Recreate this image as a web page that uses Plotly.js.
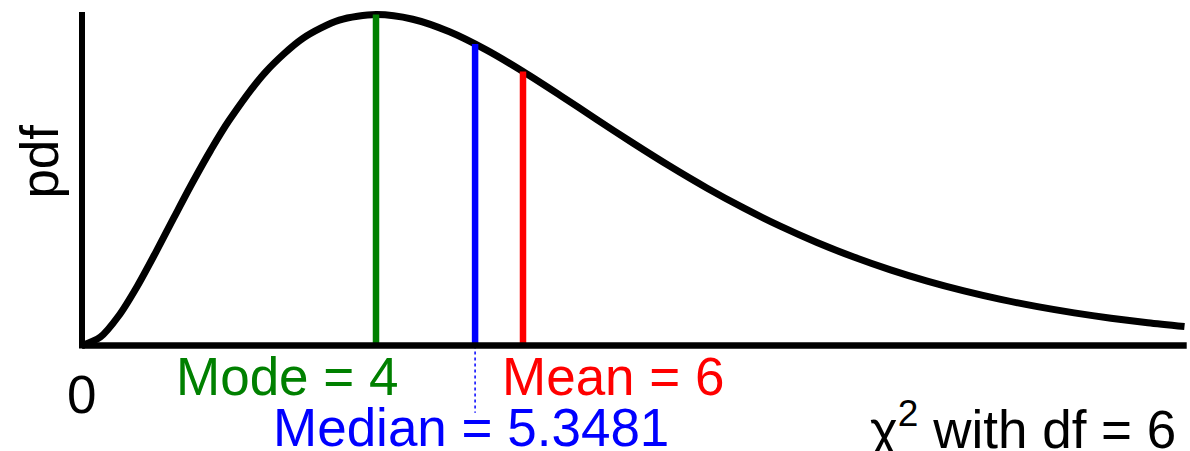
<!DOCTYPE html>
<html>
<head>
<meta charset="utf-8">
<script src="https://cdn.plot.ly/plotly-3.0.1.min.js"></script>
<style>html,body{margin:0;padding:0;background:#fff;}#chart{width:1190px;height:451px;}</style>
</head>
<body>
<div id="chart"></div>
<script>
// chi-square (df = 6) density
const xValues = [0, 0.25, 0.5, 0.75, 1, 1.25, 1.5, 1.75, 2, 2.5, 3, 3.5, 4, 4.5, 5, 5.5, 6, 6.5, 7, 7.5, 8, 8.5, 9, 9.5, 10, 10.5, 11, 11.5, 12, 12.5, 13, 13.5, 14, 14.5, 15];
const pdfValues = [0, 0.00345, 0.01217, 0.02416, 0.03791, 0.05227, 0.06643, 0.07979, 0.09197, 0.11191, 0.12551, 0.13304, 0.13534, 0.13340, 0.12826, 0.12086, 0.11202, 0.10239, 0.09248, 0.08268, 0.07326, 0.06441, 0.05624, 0.04880, 0.04211, 0.03616, 0.03091, 0.02631, 0.02231, 0.01885, 0.01588, 0.01334, 0.01117, 0.00933, 0.00778];

const statNames  = ["Mode", "Median", "Mean"];
const statX      = [4, 5.3481, 6];
const statPdf    = [0.13534, 0.12331, 0.11202];
const statColors = ["#008000", "#0000ff", "#ff0000"];
const statLabels = ["Mode = 4", "Median = 5.3481", "Mean = 6"];
const medianDropTo = -0.0275;

const xLabel = "χ<sup>2</sup> with df = 6";
const yLabel = "pdf";
const originLabel = "0";

const FONT = "Liberation Sans, Arial, Helvetica, sans-serif";
const FS = 53;

const traces = [];
traces.push({
  x: xValues, y: pdfValues, mode: "lines", type: "scatter",
  line: {color: "#000", width: 7, shape: "spline", smoothing: 0.8},
  hoverinfo: "skip", showlegend: false
});
for (let i = 0; i < statX.length; i++) {
  traces.push({
    x: [statX[i], statX[i]], y: [0, statPdf[i]], mode: "lines", type: "scatter",
    line: {color: statColors[i], width: 6.5},
    hoverinfo: "skip", showlegend: false, name: statNames[i]
  });
}
traces.push({
  x: [statX[1], statX[1]], y: [0, medianDropTo], mode: "lines", type: "scatter",
  line: {color: statColors[1], width: 1.5, dash: "dot"},
  hoverinfo: "skip", showlegend: false
});

const xr = [-82/73.5, (1190-82)/73.5];
const yr = [-(451-345.5)/2445.7, 345.5/2445.7];

const layout = {
  width: 1190, height: 451,
  margin: {l: 0, r: 0, t: 0, b: 0, pad: 0},
  paper_bgcolor: "#fff", plot_bgcolor: "#fff",
  showlegend: false,
  xaxis: {range: xr, visible: false, fixedrange: true},
  yaxis: {range: yr, visible: false, fixedrange: true},
  shapes: [
    {type: "line", xref: "x", yref: "y", x0: 0, y0: 0, x1: xValues[xValues.length-1] + 0.03, y1: 0, line: {color: "#000", width: 6.5}, layer: "above"},
    {type: "line", xref: "x", yref: "y", x0: 0, y0: -0.0012, x1: 0, y1: 0.1364, line: {color: "#000", width: 6}, layer: "above"}
  ],
  annotations: [
    {text: statLabels[0], x: 4.33, y: -0.0127, xref: "x", yref: "y", xanchor: "right", yanchor: "middle", showarrow: false, font: {family: FONT, size: FS, color: statColors[0]}},
    {text: statLabels[2], x: 5.69, y: -0.0127, xref: "x", yref: "y", xanchor: "left", yanchor: "middle", showarrow: false, font: {family: FONT, size: FS, color: statColors[2]}},
    {text: statLabels[1], x: 5.29, y: -0.0336, xref: "x", yref: "y", xanchor: "center", yanchor: "middle", showarrow: false, font: {family: FONT, size: FS, color: statColors[1]}},
    {text: originLabel, x: -0.01, y: -0.0202, xref: "x", yref: "y", xanchor: "center", yanchor: "middle", showarrow: false, font: {family: FONT, size: FS, color: "#000"}},
    {text: xLabel, x: 14.91, y: -0.0328, xref: "x", yref: "y", xanchor: "right", yanchor: "middle", showarrow: false, font: {family: FONT, size: FS, color: "#000"}},
    {text: yLabel, x: -0.571, y: 0.0752, xref: "x", yref: "y", xanchor: "center", yanchor: "middle", textangle: -90, showarrow: false, font: {family: FONT, size: FS, color: "#000"}}
  ]
};

Plotly.newPlot("chart", traces, layout, {displayModeBar: false, staticPlot: true});
</script>
</body>
</html>
